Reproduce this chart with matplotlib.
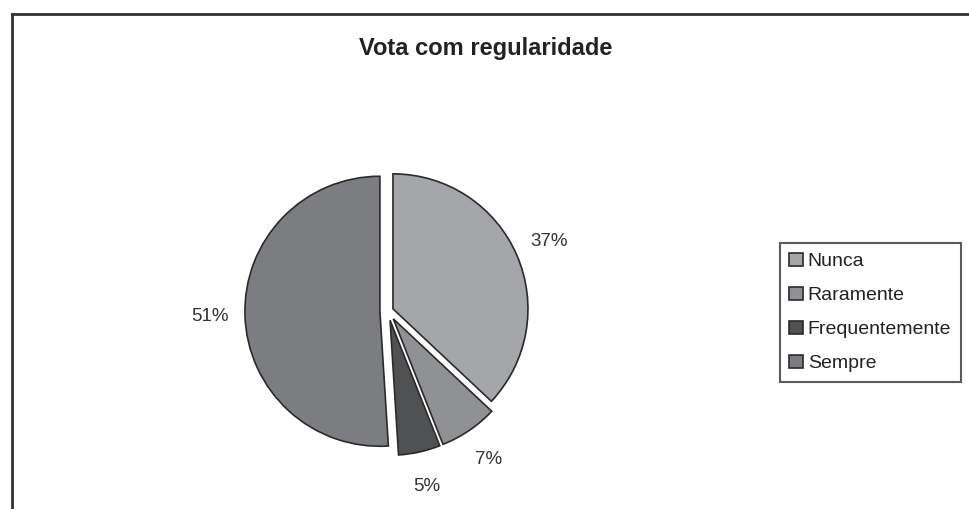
import matplotlib.pyplot as plt
from matplotlib.lines import Line2D

# data
categories = ["Nunca", "Raramente", "Frequentemente", "Sempre"]
shares = [37, 7, 5, 51]
slice_colors = ["#a5a6a9", "#909194", "#505153", "#7c7d80"]
explode = [0.04, 0.07, 0.07, 0.06]

W, H = 969, 509
plt.rcParams["font.family"] = ["Liberation Sans", "DejaVu Sans"]

fig = plt.figure(figsize=(W / 100, H / 100), dpi=100)
fig.patch.set_facecolor("white")

# pie axes: centre ~ (388, 311) px, radius ~135 px
cx, cy, half = 388, 311, 200
ax = fig.add_axes([(cx - half) / W, (H - cy - half) / H, 2 * half / W, 2 * half / H])
lim = half / 135

wedges, _, autotexts = ax.pie(
    shares,
    colors=slice_colors,
    explode=explode,
    startangle=90,
    counterclock=False,
    autopct="%d%%",
    pctdistance=1.26,
    wedgeprops=dict(edgecolor="#2a2a2a", linewidth=1.2),
    textprops=dict(fontsize=13.5, color="#333333"),
    radius=1.0,
)
ax.set_xlim(-lim, lim)
ax.set_ylim(-lim, lim)
ax.set_aspect("equal")
ax.axis("off")

fig.text(486 / W, 1 - 48 / H, "Vota com regularidade", ha="center", va="center",
         fontsize=17, fontweight="bold", color="#222222")

leg = fig.legend(
    wedges, categories,
    loc="upper right",
    bbox_to_anchor=(961 / W, 1 - 243 / H),
    frameon=True, fancybox=False,
    fontsize=14,
    handlelength=0.7, handleheight=0.7, handletextpad=0.25,
    labelspacing=0.84, borderpad=0.5, borderaxespad=0,
)
leg.get_frame().set_edgecolor("#333333")
leg.get_frame().set_linewidth(1.5)
for t in leg.get_texts():
    t.set_color("#222222")

# outer frame (only top and left visible)
fy = 1 - 14 / H
fx = 12 / W
fig.add_artist(Line2D([fx, 1], [fy, fy], color="#333333", linewidth=2, transform=fig.transFigure))
fig.add_artist(Line2D([fx, fx], [0, fy], color="#333333", linewidth=2, transform=fig.transFigure))

fig.savefig("out.png", dpi=100)
